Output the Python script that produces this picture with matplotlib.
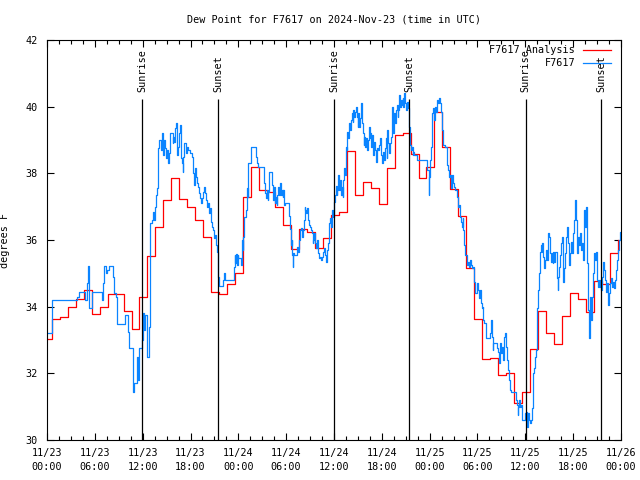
import matplotlib.pyplot as plt
import numpy as np

# Dew point (deg F); time axis in hours since 2024-11-23 00:00 UTC
# hourly analysis, each value holds from (hour - 0.4) to (hour + 0.6)
analysis_dewpt = [
    33.03, 33.63, 33.70, 33.98, 34.22, 34.49, 33.77, 33.98, 34.37, 34.37,
    33.86, 33.32, 34.28, 35.53, 36.40, 37.20, 37.87, 37.22, 37.00, 36.60,
    36.10, 34.45, 34.37, 34.67, 35.00, 37.30, 38.20, 37.50, 37.45, 37.00,
    36.45, 35.73, 36.33, 36.25, 35.75, 36.05, 36.75, 36.83, 38.67, 37.35,
    37.73, 37.57, 37.08, 38.15, 39.15, 39.20, 38.58, 37.85, 38.20, 39.85,
    38.80, 37.52, 36.72, 35.15, 33.62, 32.42, 32.45, 31.94, 32.00, 31.10,
    31.45, 32.73, 33.88, 33.20, 32.88, 33.73, 34.40, 34.22, 33.83, 34.78,
    34.68, 35.60, 36.00,
]
analysis_hours = np.arange(len(analysis_dewpt)) - 0.4

# station observations
obs_hours = [
    0.00, 0.66, 3.73, 4.05, 4.77, 4.98, 5.18, 5.27, 5.61, 6.94,
    7.06, 7.19, 7.40, 7.53, 7.78, 8.32, 8.44, 8.62, 8.74, 9.78,
    10.20, 10.32, 10.75, 10.83, 10.95, 11.25, 11.38, 11.45, 11.58, 11.88,
    12.00, 12.17, 12.29, 12.51, 12.79, 12.92, 13.13, 13.33, 13.46, 13.58,
    13.67, 13.76, 13.89, 13.96, 14.09, 14.26, 14.39, 14.51, 14.59, 14.68,
    14.80, 14.93, 15.02, 15.14, 15.27, 15.43, 15.77, 15.84, 15.97, 16.06,
    16.18, 16.27, 16.34, 16.47, 16.60, 16.68, 16.81, 16.90, 17.02, 17.10,
    17.22, 17.40, 17.52, 17.72, 17.94, 18.15, 18.28, 18.35, 18.44, 18.56,
    18.69, 18.85, 18.98, 19.07, 19.19, 19.32, 19.44, 19.61, 19.73, 19.86,
    19.94, 20.11, 20.23, 20.36, 20.45, 20.53, 20.66, 20.79, 20.95, 21.07,
    21.20, 21.29, 21.41, 21.49, 21.54, 22.12, 22.20, 22.33, 23.46, 23.55,
    23.62, 23.75, 23.83, 23.92, 24.00, 24.30, 24.42, 24.55, 24.62, 24.75,
    24.96, 25.05, 25.18, 25.25, 25.55, 26.22, 26.30, 26.50, 27.22, 27.35,
    27.47, 27.56, 27.68, 27.76, 27.88, 28.26, 28.39, 28.51, 28.60, 28.73,
    28.81, 28.89, 29.01, 29.14, 29.23, 29.35, 29.44, 29.57, 29.64, 29.77,
    29.85, 30.36, 30.39, 30.48, 30.61, 30.69, 30.77, 30.82, 30.90, 31.02,
    31.32, 31.45, 31.61, 31.74, 31.86, 31.95, 32.07, 32.20, 32.33, 32.40,
    32.53, 32.61, 32.74, 32.87, 32.99, 33.12, 33.24, 33.33, 33.40, 33.53,
    33.62, 33.74, 33.83, 33.96, 34.03, 34.16, 34.24, 34.37, 34.50, 34.62,
    34.71, 34.83, 34.96, 35.09, 35.16, 35.29, 35.37, 35.41, 35.50, 35.59,
    35.71, 35.84, 36.00, 36.13, 36.21, 36.34, 36.42, 36.54, 36.67, 36.75,
    36.88, 37.00, 37.09, 37.17, 37.29, 37.38, 37.47, 37.59, 37.67, 37.79,
    37.92, 38.01, 38.13, 38.26, 38.35, 38.42, 38.51, 38.63, 38.76, 38.85,
    38.97, 39.05, 39.17, 39.26, 39.39, 39.48, 39.55, 39.64, 39.73, 39.80,
    39.89, 39.98, 40.10, 40.23, 40.35, 40.48, 40.55, 40.68, 40.81, 40.93,
    41.06, 41.18, 41.31, 41.43, 41.56, 41.68, 41.81, 41.93, 42.06, 42.18,
    42.31, 42.44, 42.52, 42.61, 42.68, 42.81, 42.90, 43.03, 43.15, 43.24,
    43.36, 43.44, 43.53, 43.65, 43.78, 43.87, 43.99, 44.07, 44.19, 44.28,
    44.37, 44.49, 44.62, 44.69, 44.78, 44.91, 45.03, 45.12, 45.25, 45.37,
    45.45, 45.53, 45.66, 45.75, 45.88, 45.95, 46.08, 46.45, 47.63, 47.88,
    47.95, 48.04, 48.17, 48.26, 48.33, 48.46, 48.55, 48.67, 48.80, 48.88,
    49.01, 49.13, 49.30, 49.42, 49.55, 49.71, 49.92, 50.14, 50.34, 50.46,
    50.55, 50.64, 50.81, 50.97, 51.10, 51.22, 51.40, 51.52, 51.64, 51.81,
    51.93, 52.06, 52.14, 52.22, 52.31, 52.43, 52.65, 52.77, 52.90, 53.06,
    53.19, 53.31, 53.48, 53.61, 53.73, 53.91, 54.03, 54.16, 54.32, 54.44,
    54.57, 54.65, 54.73, 54.86, 55.07, 55.57, 55.66, 55.78, 55.91, 55.99,
    56.20, 56.41, 56.57, 56.66, 56.78, 56.86, 56.95, 57.07, 57.24, 57.36,
    57.45, 57.54, 57.66, 57.79, 57.92, 57.99, 58.08, 58.17, 58.79, 58.92,
    59.04, 59.12, 59.24, 59.33, 59.46, 59.54, 59.92, 60.05, 60.17, 60.25,
    60.37, 60.50, 60.59, 60.67, 60.80, 60.92, 61.00, 61.09, 61.21, 61.34,
    61.42, 61.50, 61.63, 61.72, 61.84, 61.93, 62.05, 62.13, 62.25, 62.34,
    62.47, 62.59, 62.72, 62.84, 62.93, 63.06, 63.18, 63.31, 63.43, 63.51,
    63.64, 63.76, 63.94, 64.06, 64.14, 64.26, 64.35, 64.48, 64.56, 64.69,
    64.76, 64.89, 65.01, 65.10, 65.18, 65.31, 65.43, 65.60, 65.73, 65.82,
    65.94, 66.02, 66.15, 66.23, 66.32, 66.44, 66.57, 66.69, 66.82, 66.94,
    67.07, 67.19, 67.27, 67.40, 67.52, 67.61, 67.70, 67.82, 67.90, 67.99,
    68.07, 68.15, 68.24, 68.33, 68.40, 68.49, 68.58, 68.65, 68.74, 68.83,
    68.95, 69.08, 69.20, 69.33, 69.46, 69.58, 69.71, 69.83, 69.96, 70.08,
    70.21, 70.33, 70.41, 70.52, 70.62, 70.75, 70.87, 71.00, 71.13, 71.25,
    71.38, 71.50, 71.63, 71.75, 71.87, 71.96,
]
obs_dewpt = [
    33.20, 34.20, 34.30, 34.45, 34.20, 34.70, 35.22, 33.95, 34.45, 34.20,
    34.70, 35.22, 35.00, 35.10, 35.22, 34.90, 34.40, 34.30, 33.48, 33.75,
    33.25, 32.75, 32.10, 31.45, 31.70, 32.50, 32.25, 31.80, 32.75, 33.00,
    33.80, 33.30, 33.75, 32.48, 33.40, 36.50, 36.60, 36.83, 36.60, 37.00,
    37.35, 37.55, 38.10, 38.75, 39.00, 38.70, 39.20, 38.85, 38.55, 39.00,
    38.75, 38.45, 38.70, 38.30, 38.60, 39.22, 38.90, 39.10, 38.95, 39.35,
    39.50, 39.15, 38.55, 38.80, 39.20, 39.45, 38.45, 38.30, 38.05, 38.50,
    38.90, 38.60, 38.80, 38.70, 38.60, 38.50, 38.15, 38.00, 37.65, 38.15,
    37.90, 37.70, 37.60, 37.40, 37.25, 37.10, 37.25, 37.45, 37.60, 37.40,
    37.20, 37.00, 37.10, 36.80, 36.95, 36.55, 36.40, 36.30, 36.05, 36.15,
    35.85, 35.65, 35.10, 34.90, 34.62, 34.80, 35.00, 34.80, 35.20, 35.55,
    35.30, 35.58, 35.25, 35.55, 35.45, 35.25, 36.00, 35.70, 36.10, 36.70,
    36.90, 37.55, 37.30, 38.30, 38.78, 38.50, 38.30, 38.18, 37.70, 37.40,
    37.25, 37.50, 37.20, 37.45, 38.05, 37.65, 37.20, 37.60, 37.10, 37.30,
    37.05, 37.35, 37.60, 37.35, 37.70, 37.35, 37.50, 37.30, 37.50, 37.05,
    37.12, 37.05, 36.72, 36.32, 35.85, 36.00, 35.55, 35.20, 35.60, 35.55,
    35.80, 35.65, 36.00, 36.30, 36.35, 36.10, 36.30, 36.60, 37.00, 36.90,
    36.80, 36.95, 36.60, 36.45, 36.40, 36.30, 36.20, 35.90, 36.00, 36.20,
    35.90, 35.75, 36.00, 35.65, 35.60, 35.45, 35.50, 35.40, 35.50, 35.65,
    35.75, 35.55, 35.35, 35.55, 35.70, 35.90, 36.10, 36.50, 36.65, 36.40,
    36.90, 36.70, 37.15, 37.35, 37.62, 37.35, 37.50, 37.95, 37.50, 37.80,
    37.35, 37.60, 37.30, 37.80, 38.15, 37.95, 38.80, 38.70, 39.25, 39.05,
    39.50, 39.30, 39.60, 39.80, 39.55, 39.90, 39.70, 39.85, 40.00, 39.70,
    39.40, 39.80, 39.40, 39.65, 40.10, 39.90, 39.50, 39.20, 38.85, 39.10,
    38.80, 39.05, 38.70, 39.00, 39.40, 39.05, 39.20, 38.80, 39.15, 38.55,
    38.95, 38.70, 38.35, 38.75, 38.70, 38.85, 39.05, 38.55, 38.30, 38.65,
    38.40, 38.75, 39.05, 38.45, 39.30, 38.90, 38.60, 38.90, 39.10, 40.00,
    39.50, 39.20, 39.80, 39.50, 39.90, 40.05, 39.70, 39.90, 40.35, 40.00,
    40.20, 40.05, 40.25, 40.00, 40.40, 40.10, 39.90, 40.15, 39.95, 39.85,
    39.40, 38.85, 38.70, 38.80, 38.55, 38.65, 38.55, 38.40, 38.10, 37.35,
    37.90, 38.40, 38.80, 39.20, 39.80, 39.95, 39.60, 40.00, 39.85, 40.20,
    40.10, 40.25, 40.10, 39.85, 39.30, 38.85, 38.80, 38.25, 38.10, 37.90,
    37.95, 37.55, 37.95, 37.70, 37.60, 37.50, 37.30, 37.00, 37.05, 36.70,
    36.55, 36.40, 36.65, 36.30, 35.85, 35.55, 35.25, 35.35, 35.20, 35.40,
    35.25, 35.15, 35.20, 34.75, 34.40, 34.70, 34.50, 34.25, 34.50, 34.10,
    33.95, 34.00, 33.60, 33.50, 33.05, 33.20, 33.60, 33.10, 32.70, 32.90,
    32.90, 32.75, 32.65, 32.30, 32.55, 32.90, 32.60, 32.80, 32.40, 33.10,
    33.20, 32.80, 32.40, 32.10, 32.00, 31.80, 31.50, 31.45, 31.20, 31.05,
    30.75, 31.00, 31.20, 31.00, 31.05, 30.60, 30.80, 30.85, 30.60, 30.40,
    30.80, 30.60, 30.50, 30.60, 30.95, 31.30, 32.00, 32.15, 32.50, 32.70,
    33.60, 33.95, 34.50, 35.00, 35.65, 35.85, 35.65, 35.90, 35.50, 35.15,
    35.40, 35.70, 35.40, 36.20, 36.10, 35.60, 35.35, 35.60, 35.30, 35.65,
    35.35, 35.65, 34.85, 34.50, 34.90, 35.20, 35.55, 35.90, 36.10, 35.50,
    34.75, 35.15, 35.60, 36.10, 36.40, 35.90, 35.25, 35.60, 35.95, 35.60,
    35.95, 36.20, 36.60, 37.20, 36.60, 35.60, 36.10, 35.85, 36.20, 35.70,
    35.90, 35.50, 35.40, 36.90, 36.40, 37.00, 35.30, 34.30, 33.90, 33.05,
    33.30, 34.30, 33.60, 33.90, 34.30, 35.00, 35.20, 35.60, 35.40, 35.65,
    34.80, 34.60, 34.80, 34.60, 34.50, 34.90, 35.35, 35.10, 34.80, 34.45,
    34.70, 34.30, 34.05, 34.40, 34.70, 34.85, 34.60, 34.75, 34.55, 34.80,
    35.10, 35.40, 35.70, 36.00, 36.25, 36.10,
]

sunrise_hours = [11.95, 36.03, 60.04]
sunset_hours = [21.50, 45.47, 69.55]

tick_hours = np.arange(0, 73, 6)
tick_labels = ['11/23\n00:00', '11/23\n06:00', '11/23\n12:00', '11/23\n18:00',
               '11/24\n00:00', '11/24\n06:00', '11/24\n12:00', '11/24\n18:00',
               '11/25\n00:00', '11/25\n06:00', '11/25\n12:00', '11/25\n18:00',
               '11/26\n00:00']

plt.rcParams['font.family'] = 'DejaVu Sans Mono'
plt.rcParams['font.size'] = 7.3

fig = plt.figure(figsize=(6.4, 4.8), dpi=100)
ax = fig.add_axes([47 / 640, 40 / 480, 574 / 640, 400 / 480])

ax.step(analysis_hours, analysis_dewpt, where='post', color='#ff0000', lw=0.9)
ax.step(obs_hours, obs_dewpt, where='post', color='#0a84ff', lw=0.9)

# sunrise / sunset markers
for t in sunrise_hours:
    ax.vlines(t, 30, 40.23, color='black', lw=0.9)
    ax.text(t, 40.44, 'Sunrise', rotation=90, ha='center', va='bottom')
for t in sunset_hours:
    ax.vlines(t, 30, 40.23, color='black', lw=0.9)
    ax.text(t, 40.44, 'Sunset', rotation=90, ha='center', va='bottom')

ax.set_xlim(0, 72)
ax.set_ylim(30, 42)
ax.set_xticks(tick_hours)
ax.set_xticklabels(tick_labels, linespacing=1.4)
ax.set_xticks(np.arange(0, 72.1, 1.5), minor=True)
ax.set_yticks(np.arange(30, 43, 2))
ax.tick_params(direction='in', top=True, right=True, length=5, width=0.8)
ax.tick_params(axis='x', which='minor', direction='in', top=True, length=3, width=0.8)
ax.tick_params(axis='x', pad=6)
ax.tick_params(axis='y', pad=7)
for s in ax.spines.values():
    s.set_linewidth(0.8)

ax.set_ylabel('degrees F')
ax.yaxis.set_label_coords(-0.064, 0.5)
ax.text(0.5, 1.05, 'Dew Point for F7617 on 2024-Nov-23 (time in UTC)',
        transform=ax.transAxes, ha='center', va='center')

# legend drawn gnuplot style: right-aligned text, sample line after it
for row, (lbl, col) in enumerate([('F7617 Analysis', '#ff0000'), ('F7617', '#0a84ff')]):
    y = 0.975 - row * 0.0325
    ax.text(0.920, y, lbl, transform=ax.transAxes, ha='right', va='center')
    ax.plot([0.934, 0.982], [y, y], transform=ax.transAxes, color=col, lw=0.9)

fig.savefig('out.png', dpi=100)
